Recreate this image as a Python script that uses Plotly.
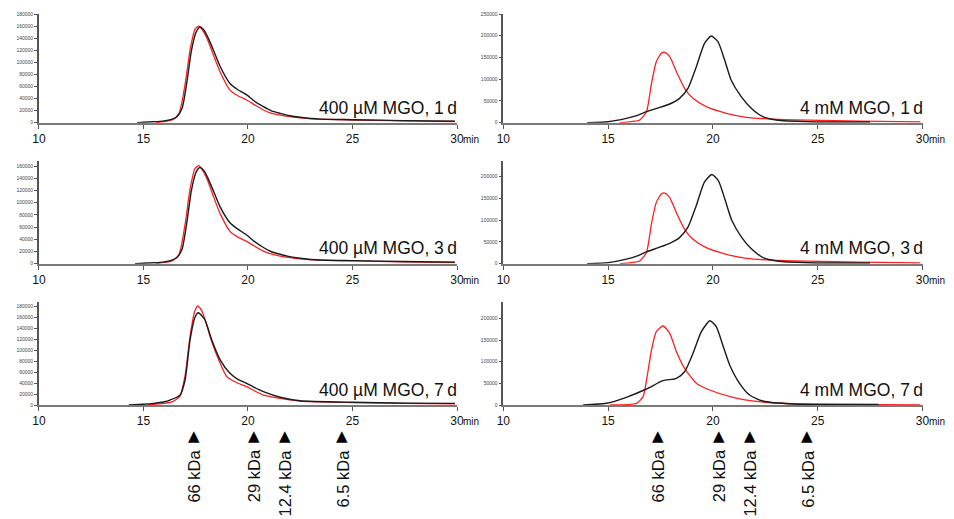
import plotly.graph_objects as go

# ---------------- data (retention time in min, detector signal) ----------------
# top-left: 400 µM MGO, 1 d
tl_black_t = [14.7, 15.0, 15.5, 16.0, 16.3, 16.6, 16.85, 17.07, 17.3, 17.52, 17.71, 17.9, 18.1, 18.35, 18.67, 19.14, 19.5, 19.94, 20.3, 20.74, 21.1, 21.54, 22.0, 22.5, 23.45, 25.0, 27.4, 29.9]
tl_black_v = [0, 800, 1500, 3000, 5000, 10000, 24000, 65000, 120000, 150000, 158500, 153000, 140000, 120000, 93000, 65000, 55000, 46000, 36000, 26500, 20000, 15500, 11500, 9000, 6000, 5000, 3500, 2500]
tl_red_t = [15.6, 16.0, 16.4, 16.7, 17.0, 17.23, 17.47, 17.65, 17.85, 18.1, 18.35, 18.67, 19.14, 19.5, 19.94, 20.3, 20.74, 21.1, 21.54, 22.0, 22.5, 23.45, 25.0, 27.4, 29.9]
tl_red_v = [0, 2000, 5000, 15000, 65000, 120000, 155000, 160000, 152000, 135000, 112000, 84000, 54000, 45000, 37500, 30000, 21000, 16000, 12500, 10000, 8000, 6000, 4500, 3000, 2000]

# middle-left: 400 µM MGO, 3 d
ml_black_t = [14.6, 15.0, 15.5, 16.0, 16.3, 16.6, 16.85, 17.07, 17.3, 17.52, 17.7, 17.9, 18.1, 18.35, 18.67, 19.14, 19.5, 19.94, 20.3, 20.74, 21.1, 21.54, 22.0, 22.5, 23.45, 25.0, 27.4, 29.9]
ml_black_v = [0, 800, 1500, 3000, 5000, 10000, 24000, 66000, 121000, 150000, 157500, 152000, 139000, 119000, 93000, 67000, 57000, 47000, 36500, 26500, 20000, 15500, 11500, 9000, 6000, 5000, 3500, 2500]
ml_red_t = [15.6, 16.0, 16.4, 16.7, 17.0, 17.23, 17.47, 17.65, 17.85, 18.1, 18.35, 18.67, 19.14, 19.5, 19.94, 20.3, 20.74, 21.1, 21.54, 22.0, 22.5, 23.45, 25.0, 27.4, 29.9]
ml_red_v = [0, 2000, 5000, 15000, 66000, 122000, 156000, 160500, 152000, 134000, 110000, 82000, 53000, 44000, 36500, 29000, 20500, 16000, 12500, 10000, 8000, 6000, 4500, 3000, 2000]

# bottom-left: 400 µM MGO, 7 d
bl_black_t = [14.3, 15.0, 15.47, 16.0, 16.27, 16.75, 16.99, 17.23, 17.47, 17.63, 17.8, 17.95, 18.27, 18.67, 19.14, 19.5, 19.94, 20.3, 20.74, 21.54, 22.49, 25.0, 27.5, 29.9]
bl_black_v = [0, 1500, 3000, 6000, 9000, 18000, 45000, 118000, 160000, 167800, 162000, 154500, 118000, 82000, 57600, 47000, 39400, 32000, 24200, 14000, 7800, 5000, 3500, 3000]
bl_red_t = [15.2, 15.6, 16.0, 16.4, 16.75, 17.0, 17.23, 17.45, 17.6, 17.78, 17.95, 18.27, 18.67, 18.99, 19.5, 19.94, 20.3, 20.74, 21.54, 22.49, 25.0, 27.5, 29.9]
bl_red_v = [0, 1500, 3000, 6000, 16000, 55000, 125000, 170000, 180000, 172000, 155000, 115000, 76000, 51500, 40000, 33300, 26000, 18000, 12000, 7000, 4500, 3000, 2000]

# top-right: 4 mM MGO, 1 d
tr_black_t = [14.0, 15.0, 15.87, 16.4, 16.83, 17.4, 17.94, 18.41, 18.81, 19.21, 19.6, 19.92, 20.24, 20.56, 20.87, 21.35, 21.83, 22.38, 23.02, 24.6, 27.5]
tr_black_v = [0, 2300, 10000, 17000, 25300, 34000, 43000, 56000, 79000, 128800, 182600, 199400, 186300, 144200, 98200, 59800, 33100, 13800, 6200, 2300, 1500]
tr_red_t = [15.56, 16.1, 16.51, 16.83, 17.07, 17.3, 17.54, 17.7, 17.94, 18.26, 18.65, 19.05, 19.68, 20.64, 21.59, 22.86, 24.6, 26.98, 29.9]
tr_red_v = [0, 2500, 6200, 25300, 90600, 140300, 159600, 161900, 151800, 117300, 79100, 56100, 36800, 21600, 12400, 8000, 5700, 3500, 2000]

# middle-right: 4 mM MGO, 3 d
mr_black_t = [14.0, 15.0, 15.87, 16.4, 16.83, 17.4, 17.94, 18.41, 18.81, 19.21, 19.6, 19.95, 20.27, 20.58, 20.9, 21.38, 21.86, 22.4, 23.05, 24.6, 27.5]
mr_black_v = [0, 2500, 10500, 18000, 27000, 37000, 47000, 60000, 84000, 134000, 188000, 205000, 190000, 147000, 100000, 60000, 33000, 14000, 6200, 2300, 1500]
mr_red_t = [15.56, 16.1, 16.51, 16.83, 17.07, 17.3, 17.54, 17.7, 17.94, 18.26, 18.65, 19.05, 19.68, 20.64, 21.59, 22.86, 24.6, 26.98, 29.9]
mr_red_v = [0, 2500, 6200, 26000, 92000, 141000, 160000, 162500, 152000, 117000, 79000, 56000, 36800, 21600, 12400, 8000, 5700, 3500, 2000]

# bottom-right: 4 mM MGO, 7 d
br_black_t = [13.81, 14.92, 15.87, 16.83, 17.62, 18.26, 18.65, 19.05, 19.45, 19.86, 20.16, 20.47, 20.8, 21.27, 21.75, 22.38, 23.8, 27.9]
br_black_v = [0, 3900, 17800, 36900, 56100, 61600, 76800, 119300, 169200, 194500, 180700, 138400, 92300, 50100, 23100, 9200, 2300, 1500]
br_red_t = [15.1, 16.35, 16.67, 16.86, 17.07, 17.3, 17.62, 17.94, 18.26, 18.65, 19.21, 19.84, 20.95, 22.22, 23.8, 29.9]
br_red_v = [0, 3900, 19200, 65300, 126900, 169200, 182300, 165500, 123000, 84700, 50100, 34600, 17800, 7600, 3000, 500]

panel_labels = ["400 µM MGO, 1\u2009d", "4 mM MGO, 1\u2009d",
                "400 µM MGO, 3\u2009d", "4 mM MGO, 3\u2009d",
                "400 µM MGO, 7\u2009d", "4 mM MGO, 7\u2009d"]

marker_times = [17.4, 20.3, 21.75, 24.5]
marker_labels = ["66 kDa", "29 kDa", "12.4 kDa", "6.5 kDa"]

x_ticks = [10, 15, 20, 25, 30]

# ---------------- figure ----------------
# the page adds an 8 px body margin, so the figure is 8 px smaller on each side
OFF = 8
W, H = 954 - OFF, 519 - OFF
FONT = "Liberation Sans, Arial, Helvetica, sans-serif"
BLACK = "#1a1a1a"
RED = "#ff1f1f"

def py(p):
    return 1 - (p - OFF) / H

def pxx(p):
    return (p - OFF) / W

left_dom = [pxx(38.9), pxx(457)]
right_dom = [pxx(503.3), pxx(922.5)]
# (top px, bottom px) per row in screen pixels
rows = [(14, 122.7), (160.7, 263.7), (302, 405)]
yranges = [[0, 180000], [0, 250000], [0, 168700], [0, 236800], [0, 187300], [0, 237700]]
ydticks = [20000, 50000, 20000, 50000, 20000, 50000]

series = [
    (tl_black_t, tl_black_v, tl_red_t, tl_red_v),
    (tr_black_t, tr_black_v, tr_red_t, tr_red_v),
    (ml_black_t, ml_black_v, ml_red_t, ml_red_v),
    (mr_black_t, mr_black_v, mr_red_t, mr_red_v),
    (bl_black_t, bl_black_v, bl_red_t, bl_red_v),
    (br_black_t, br_black_v, br_red_t, br_red_v),
]

fig = go.Figure()
layout = dict(
    width=W, height=H,
    margin=dict(l=0, r=0, t=0, b=0),
    paper_bgcolor="white", plot_bgcolor="white",
    showlegend=False,
    font=dict(family=FONT, color="#111"),
)
annotations = []

for i in range(6):
    n = i + 1
    xa = "x" if n == 1 else f"x{n}"
    ya = "y" if n == 1 else f"y{n}"
    bt, bv, rt, rv = series[i]
    fig.add_trace(go.Scatter(x=rt, y=rv, mode="lines", xaxis=xa, yaxis=ya,
                             line=dict(color=RED, width=1.3, shape="spline", smoothing=0.6),
                             hoverinfo="skip"))
    fig.add_trace(go.Scatter(x=bt, y=bv, mode="lines", xaxis=xa, yaxis=ya,
                             line=dict(color=BLACK, width=1.4, shape="spline", smoothing=0.6),
                             hoverinfo="skip"))
    row = i // 2
    col = i % 2
    top, bot = rows[row]
    xkey = "xaxis" if n == 1 else f"xaxis{n}"
    ykey = "yaxis" if n == 1 else f"yaxis{n}"
    layout[xkey] = dict(
        domain=left_dom if col == 0 else right_dom,
        anchor=ya, range=[10, 30],
        tickvals=x_ticks, ticktext=[str(v) for v in x_ticks],
        ticks="outside", ticklen=4, tickwidth=1, tickcolor="#555",
        showline=True, linecolor="#7a7a7a", linewidth=2,
        showgrid=False, zeroline=False,
        tickfont=dict(size=12, color="#111", family=FONT),
        fixedrange=True, automargin=False,
    )
    layout[ykey] = dict(
        domain=[py(bot), py(top)],
        anchor=xa, range=yranges[i], dtick=ydticks[i], tick0=0, tickformat="d",
        ticks="outside", ticklen=3, tickwidth=1, tickcolor="#555",
        showline=True, linecolor="#555", linewidth=1.5,
        showgrid=False, zeroline=False,
        tickfont=dict(size=5, color="#444", family=FONT),
        fixedrange=True, automargin=False,
    )
    # panel label
    label_y = [107.5, 248.5, 390][row]
    annotations.append(dict(
        xref=xa, yref="paper", x=30, y=py(label_y), xanchor="right", yanchor="middle",
        xshift=2, text=panel_labels[i], showarrow=False,
        font=dict(size=17.5, color="#111", family=FONT),
    ))
    # "min" unit after 30
    annotations.append(dict(
        xref=xa, yref="paper", x=30, y=py(bot + 16.5), xanchor="left", yanchor="middle",
        xshift=4, text="min", showarrow=False,
        font=dict(size=10, color="#111", family=FONT),
    ))

# molecular weight markers below bottom panels
for xa in ["x5", "x6"]:
    for t, lab in zip(marker_times, marker_labels):
        annotations.append(dict(
            xref=xa, yref="paper", x=t, y=py(435.5), xanchor="center", yanchor="middle",
            text="▲", showarrow=False,
            font=dict(size=15, color="black", family="DejaVu Sans"),
        ))
        annotations.append(dict(
            xref=xa, yref="paper", x=t, y=py(447.5), xanchor="center", yanchor="top",
            text=lab, textangle=-90, showarrow=False,
            font=dict(size=16.5, color="#111", family=FONT),
        ))

layout["annotations"] = annotations
fig.update_layout(**layout)
fig.write_html("out.html")
